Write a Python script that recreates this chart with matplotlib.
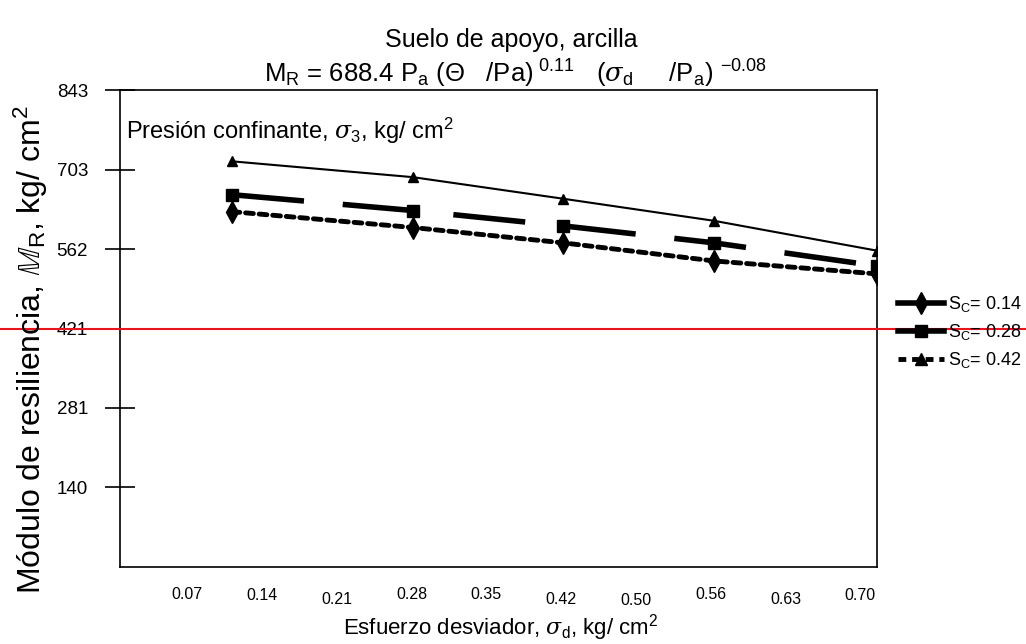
#!/usr/bin/env python3

import matplotlib
matplotlib.use("Agg")
import matplotlib.pyplot as plt
import matplotlib.transforms as mtransforms
from matplotlib.lines import Line2D

plt.rcParams["font.family"] = ["Liberation Sans", "DejaVu Sans"]
plt.rcParams["mathtext.fontset"] = "custom"
plt.rcParams["mathtext.rm"] = "Liberation Sans"
plt.rcParams["mathtext.it"] = "DejaVu Serif:italic"

# desviator stress (positions)
sigma_d = [0.14, 0.297, 0.427, 0.558, 0.70]
mr_triangle = [717, 689, 651, 612, 559]
mr_square = [658, 630, 603, 573, 532]
mr_diamond = [628, 600, 573, 541, 518]

x_tick_labels = ["0.07", "0.14", "0.21", "0.28", "0.35", "0.42", "0.50", "0.56", "0.63", "0.70"]
y_ticks = [140.5, 281, 421.5, 562, 702.5, 843]
y_tick_labels = ["140", "281", "421", "562", "703", "843"]
legend_labels = ["S$_\\mathrm{C}$= 0.14", "S$_\\mathrm{C}$= 0.28", "S$_\\mathrm{C}$= 0.42"]


def main():
    fig = plt.figure(figsize=(10.26, 6.44), dpi=100)
    ax = fig.add_axes([0.117, 0.1196, 0.738, 0.7406])

    ax.plot(sigma_d, mr_triangle, color="black", lw=1.5, marker="^", ms=7.5)
    ax.plot(sigma_d, mr_square, color="black", lw=4, marker="s", ms=8.5,
            dashes=(13, 7), dash_capstyle="butt")
    ax.plot(sigma_d, mr_diamond, color="black", lw=3.5, marker="d", ms=11,
            dashes=(1.6, 1.2), dash_capstyle="round")

    ax.set_xlim(0.0428, 0.70)
    ax.set_ylim(0, 843)
    ax.set_xticks([])
    ax.set_yticks(y_ticks)
    ax.set_yticklabels(y_tick_labels, fontsize=13.5)
    ax.tick_params(axis="y", direction="inout", length=22, width=1.2, pad=12)
    for s in ax.spines.values():
        s.set_linewidth(1.2)

    # staggered x tick labels, as in the original
    y_off = [-28, -29, -33, -28, -28, -33, -34, -28, -33, -29]
    for i, lab in enumerate(x_tick_labels):
        ax.annotate(lab, xy=(0.0885 + i * 0.0988, 0), xycoords="axes fraction",
                    xytext=(0, y_off[i]), textcoords="offset pixels",
                    ha="center", va="center", fontsize=11.5)

    ax.text(0.008, 0.915, "Presión confinante, $\\sigma_3$, kg/ cm$^2$",
            transform=ax.transAxes, fontsize=17, va="center", ha="left")

    fig.text(0.498, 0.938, "Suelo de apoyo, arcilla", fontsize=18,
             ha="center", va="center")
    fig.text(0.502, 0.886,
             "M$_\\mathrm{R}$ = 688.4 P$_\\mathrm{a}$ ($\\Theta$   /Pa)$^{\\ 0.11}$   "
             "($\\sigma_\\mathrm{d}$     /P$_\\mathrm{a}$) $^{-0.08}$",
             fontsize=18.5, ha="center", va="center")

    fig.text(0.488, 0.026, "Esfuerzo desviador, $\\sigma_\\mathrm{d}$, kg/ cm$^2$",
             fontsize=16, ha="center", va="center")
    fig.text(0.03, 0.457, "Módulo de resiliencia, $\\mathbb{M}_\\mathrm{R}$, kg/ cm$^2$",
             fontsize=23, ha="center", va="center", rotation=90)

    handles = [
        Line2D([], [], color="black", lw=4, marker="d", ms=11),
        Line2D([], [], color="black", lw=4, marker="s", ms=9),
        Line2D([], [], color="black", lw=3.5, marker="^", ms=8, dashes=(1.6, 1.2)),
    ]
    fig.legend(handles, legend_labels, loc="center left",
               bbox_to_anchor=(0.866, 0.484), frameon=False, fontsize=13,
               handlelength=2.6, handletextpad=0.2, labelspacing=0.45,
               borderpad=0.0)

    # red horizontal marker line across the whole figure
    tr = mtransforms.blended_transform_factory(fig.transFigure, ax.transData)
    ax.plot([0, 1], [421.5, 421.5], transform=tr, color="#e8141c", lw=1.5,
            clip_on=False, zorder=10)

    fig.savefig("out.png", dpi=100)


if __name__ == "__main__":
    main()
